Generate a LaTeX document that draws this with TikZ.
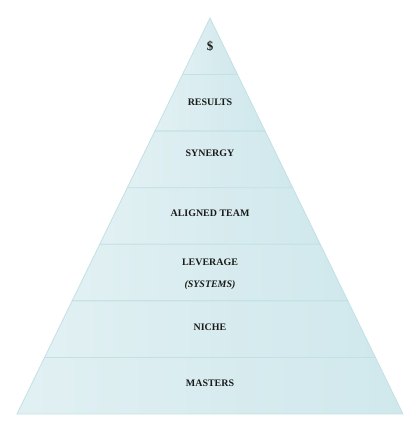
\documentclass[tikz,border=0pt]{standalone}
\usepackage{fontspec}
\setmainfont{Liberation Serif}
\usepackage{xcolor}
\definecolor{bandl}{HTML}{E1F0F3}
\definecolor{bandr}{HTML}{D0E8EC}
\definecolor{bandedge}{HTML}{C2E1E5}
\definecolor{ink}{HTML}{1A1A1A}

\begin{document}
\begin{tikzpicture}[
  x=1bp, y=-1bp,
  band/.style={left color=bandl, right color=bandr, draw=bandedge, line width=0.8bp},
  lbl/.style={text=ink, font=\fontsize{10}{12}\selectfont\bfseries}
]
\useasboundingbox (0,0) rectangle (420,432);
% pyramid bands
\foreach \i in {0,...,6} {
  \pgfmathsetmacro\yt{18+56.57*\i}
  \pgfmathsetmacro\yb{18+56.57*(\i+1)}
  \pgfmathsetmacro\wt{193*\i/7}
  \pgfmathsetmacro\wb{193*(\i+1)/7}
  \shade[band] (210-\wt,\yt) -- (210+\wt,\yt) -- (210+\wb,\yb) -- (210-\wb,\yb) -- cycle;
}
% labels
\node[lbl, font=\fontsize{13}{15}\selectfont\bfseries] (dollar) at (210,46) {\$};
\node[lbl] (results) at (210,102) {RESULTS};
\node[lbl] (synergy) at (210,153) {SYNERGY};
\node[lbl] (team) at (210,213) {ALIGNED TEAM};
\node[lbl] (leverage) at (210,262) {LEVERAGE};
\node[lbl, font=\fontsize{10}{12}\selectfont\bfseries\itshape] (systems) at (210,285) {(SYSTEMS)};
\node[lbl] (niche) at (210,327) {NICHE};
\node[lbl] (masters) at (210,383) {MASTERS};
\end{tikzpicture}
\end{document}
